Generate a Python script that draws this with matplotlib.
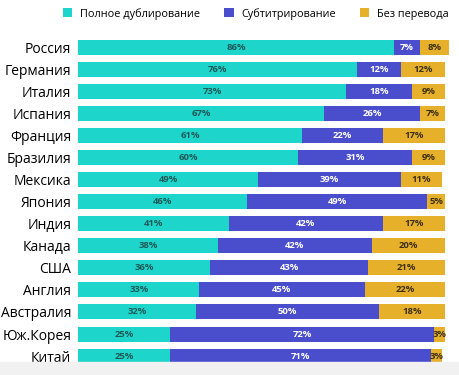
import matplotlib
matplotlib.use('Agg')
from matplotlib import pyplot as plt
from matplotlib.patches import Rectangle

plt.rcParams['font.family'] = ['Open Sans', 'DejaVu Sans']

# data
countries = ['Россия', 'Германия', 'Италия', 'Испания', 'Франция', 'Бразилия', 'Мексика',
             'Япония', 'Индия', 'Канада', 'США', 'Англия', 'Австралия', 'Юж.Корея', 'Китай']
dub = [86, 76, 73, 67, 61, 60, 49, 46, 41, 38, 36, 33, 32, 25, 25]
subs = [7, 12, 18, 26, 22, 31, 39, 49, 42, 42, 43, 45, 50, 72, 71]
none = [8, 12, 9, 7, 17, 9, 11, 5, 17, 20, 21, 22, 18, 3, 3]
series_names = ['Полное дублирование', 'Субтитрирование', 'Без перевода']

c_dub = '#1dd5cb'
c_sub = '#4a4ecd'
c_none = '#e6b02b'

fig = plt.figure(figsize=(4.6, 3.75), dpi=100)
# light gray strip at the bottom
fig.patches.append(Rectangle((0, 0), 1, 0.035, transform=fig.transFigure,
                             color='#f1f1f1', zorder=0))
ax = fig.add_axes([0.17, 0.021, 0.83, 0.883])

y = list(range(len(countries)))
h = 0.68
b1 = ax.barh(y, dub, height=h, color=c_dub, label=series_names[0])
left2 = dub
b2 = ax.barh(y, subs, left=left2, height=h, color=c_sub, label=series_names[1])
left3 = [a + b for a, b in zip(dub, subs)]
b3 = ax.barh(y, none, left=left3, height=h, color=c_none, label=series_names[2])

ax.bar_label(b1, labels=[f'{v}%' for v in dub], label_type='center',
             fontsize=6.8, fontweight='bold', color='#1f5a58')
ax.bar_label(b2, labels=[f'{v}%' for v in subs], label_type='center',
             fontsize=6.8, fontweight='bold', color='white')
ax.bar_label(b3, labels=[f'{v}%' for v in none], label_type='center',
             fontsize=6.8, fontweight='bold', color='#3d3112')

ax.set_ylim(len(countries) - 0.5, -0.5)
ax.set_xlim(0, 104)
ax.set_yticks(y)
ax.set_yticklabels(countries, fontsize=10)
ax.tick_params(axis='y', length=0, pad=5)
ax.set_xticks([])
for s in ax.spines.values():
    s.set_visible(False)

fig.legend(handles=[b1, b2, b3], loc='upper left', bbox_to_anchor=(0.115, 1.005),
           ncol=3, frameon=False, fontsize=7.8, handlelength=0.9, handleheight=0.9,
           columnspacing=2.2, handletextpad=0.7)

fig.savefig('out.png', dpi=100)
